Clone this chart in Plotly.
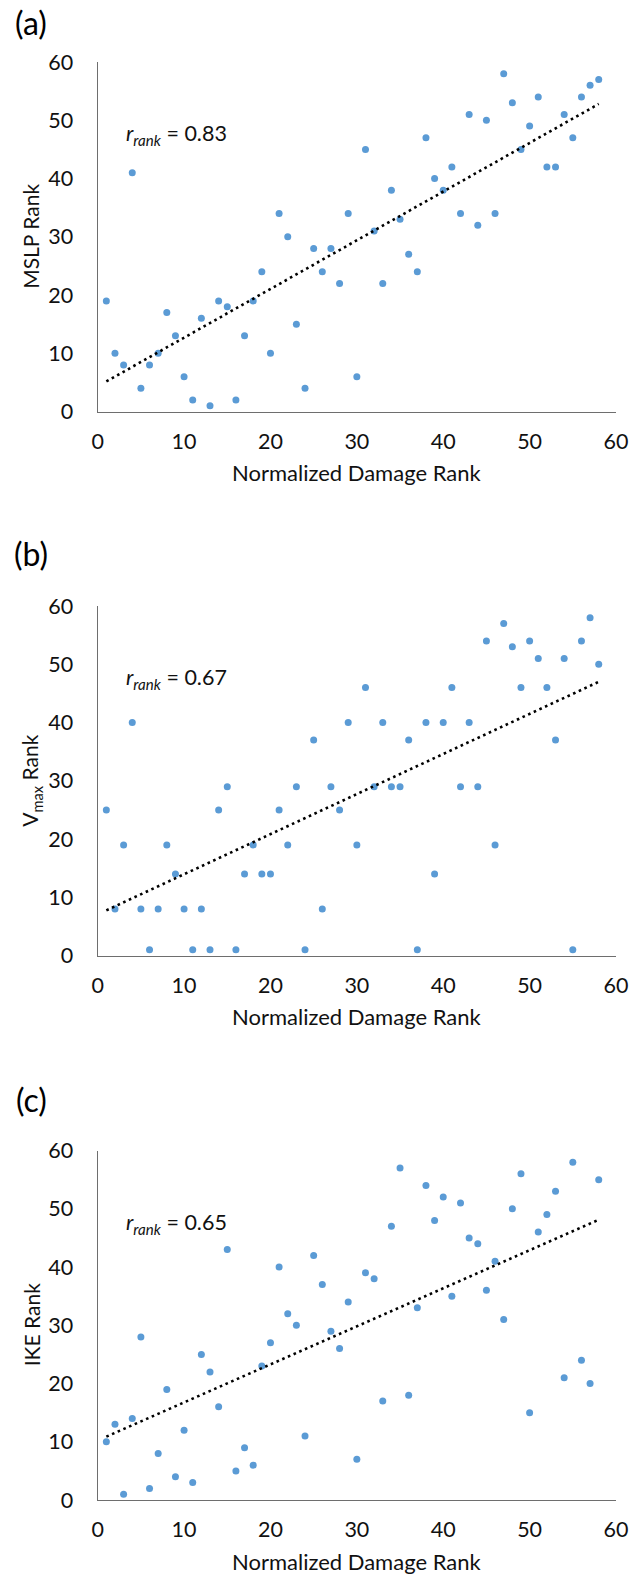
import numpy as np
import plotly.graph_objects as go

# Normalized damage rank (shared x values for all three panels)
damage_rank = list(range(1, 59))

# Rank of each storm by minimum sea-level pressure
mslp_rank = [19, 10, 8, 41, 4, 8, 10, 17, 13, 6, 2, 16, 1, 19, 18, 2, 13, 19, 24, 10,
             34, 30, 15, 4, 28, 24, 28, 22, 34, 6, 45, 31, 22, 38, 33, 27, 24, 47, 40, 38,
             42, 34, 51, 32, 50, 34, 58, 53, 45, 49, 54, 42, 42, 51, 47, 54, 56, 57]

# Rank by maximum sustained wind
vmax_rank = [25, 8, 19, 40, 8, 1, 8, 19, 14, 8, 1, 8, 1, 25, 29, 1, 14, 19, 14, 14,
             25, 19, 29, 1, 37, 8, 29, 25, 40, 19, 46, 29, 40, 29, 29, 37, 1, 40, 14, 40,
             46, 29, 40, 29, 54, 19, 57, 53, 46, 54, 51, 46, 37, 51, 1, 54, 58, 50]

# Rank by integrated kinetic energy
ike_rank = [10, 13, 1, 14, 28, 2, 8, 19, 4, 12, 3, 25, 22, 16, 43, 5, 9, 6, 23, 27,
            40, 32, 30, 11, 42, 37, 29, 26, 34, 7, 39, 38, 17, 47, 57, 18, 33, 54, 48, 52,
            35, 51, 45, 44, 36, 41, 31, 50, 56, 15, 46, 49, 53, 21, 58, 24, 20, 55]

panel_tags = ["(a)", "(b)", "(c)"]
y_titles = ["MSLP Rank", "V<sub>max</sub> Rank", "IKE Rank"]
r_rank_values = ["0.83", "0.67", "0.65"]
x_title = "Normalized Damage Rank"
tick_vals = [0, 10, 20, 30, 40, 50, 60]

W, H = 631, 1581
FONT = "Lato, 'Open Sans', sans-serif"
DOT_COLOR = "#5B9BD5"
AXIS_COLOR = "#6e6e6e"
TEXT_COLOR = "#111111"

# pixel layout of each plotting area (top, bottom) and the shared left/right edges
x_left, x_right = 97.7, 616.0
panel_px = [(62.0, 411.6), (606.0, 955.6), (1150.5, 1500.1)]
tag_px_y = [22, 553, 1099]


def py(v):
    return 1 - v / H


fig = go.Figure()
annotations = []
series = [mslp_rank, vmax_rank, ike_rank]

for i, ys in enumerate(series):
    n = "" if i == 0 else str(i + 1)
    xa, ya = "x" + n, "y" + n
    top, bot = panel_px[i]

    fig.add_trace(go.Scatter(
        x=damage_rank, y=ys, mode="markers",
        marker=dict(color=DOT_COLOR, size=7),
        xaxis=xa, yaxis=ya, showlegend=False, hoverinfo="x+y"))

    # least-squares trendline across the observed damage ranks
    slope, icpt = np.polyfit(damage_rank, ys, 1)
    tx = np.array([min(damage_rank), max(damage_rank)], dtype=float)
    fig.add_trace(go.Scatter(
        x=tx, y=slope * tx + icpt, mode="lines",
        line=dict(color="black", width=2.6, dash="2.6px,3.6px"),
        xaxis=xa, yaxis=ya, showlegend=False, hoverinfo="skip"))

    axis_common = dict(
        range=[0, 60], tickvals=tick_vals, showgrid=False, zeroline=False,
        showline=True, linecolor=AXIS_COLOR, linewidth=1.2, ticks="",
        automargin=False,
        tickfont=dict(family=FONT, size=21.5, color=TEXT_COLOR), fixedrange=True)
    fig.layout["xaxis" + n] = dict(
        axis_common, domain=[x_left / W, x_right / W], anchor=ya,
        ticklabelstandoff=10)
    fig.layout["yaxis" + n] = dict(
        axis_common, domain=[py(bot), py(top)], anchor=xa,
        ticklabelstandoff=19)

    mid = (top + bot) / 2
    annotations += [
        dict(text=panel_tags[i], x=31 / W, y=py(tag_px_y[i]), xref="paper", yref="paper",
             showarrow=False, xanchor="center", yanchor="middle",
             font=dict(family=FONT, size=32, color="black")),
        dict(text=y_titles[i], x=31 / W, y=py(mid), xref="paper", yref="paper",
             showarrow=False, textangle=-90, xanchor="center", yanchor="middle",
             font=dict(family=FONT, size=21, color=TEXT_COLOR)),
        dict(text=x_title, x=(x_left + x_right) / 2 / W, y=py(bot + 61), xref="paper",
             yref="paper", showarrow=False, xanchor="center", yanchor="middle",
             font=dict(family=FONT, size=22, color=TEXT_COLOR)),
        dict(text="<i>r</i><sub><i>rank</i></sub> = " + r_rank_values[i],
             x=3.0, y=47.5, xref=xa, yref=ya, showarrow=False,
             xanchor="left", yanchor="middle",
             font=dict(family=FONT, size=21.5, color=TEXT_COLOR)),
    ]

fig.update_layout(
    width=W, height=H, margin=dict(l=0, r=0, t=0, b=0, autoexpand=False),
    paper_bgcolor="white", plot_bgcolor="white",
    annotations=annotations, showlegend=False)

fig.write_html("out.html")
